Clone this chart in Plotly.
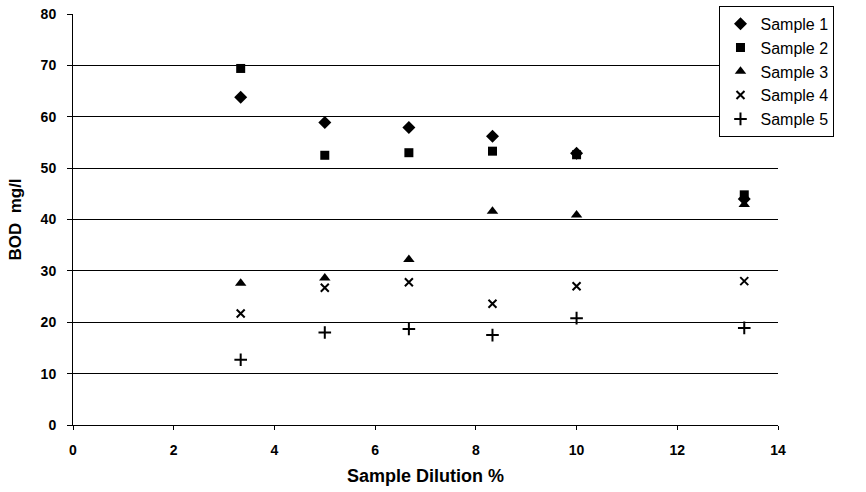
import plotly.graph_objects as go

dilution = [3.33, 5.0, 6.67, 8.33, 10.0, 13.33]
sample1 = [63.8, 58.9, 57.9, 56.2, 52.9, 44.0]
sample2 = [69.4, 52.5, 53.0, 53.3, 52.6, 44.8]
sample3 = [27.6, 28.6, 32.2, 41.6, 40.9, 42.9]
sample4 = [21.7, 26.7, 27.8, 23.6, 27.0, 28.0]
sample5 = [12.7, 18.0, 18.7, 17.5, 20.8, 18.9]

series = [
    ("Sample 1", sample1, dict(symbol="diamond", size=10, color="black")),
    ("Sample 2", sample2, dict(symbol="square", size=9, color="black")),
    ("Sample 3", sample3, dict(symbol="triangle-up", size=10, color="black")),
    ("Sample 4", sample4, dict(symbol="x-thin", size=8, color="black", line=dict(color="black", width=2))),
    ("Sample 5", sample5, dict(symbol="cross-thin", size=9, color="black", line=dict(color="black", width=2))),
]

fig = go.Figure()
for name, vals, mk in series:
    fig.add_trace(go.Scatter(x=dilution, y=vals, mode="markers", name=name, marker=mk))

font = "Liberation Sans, Arial, sans-serif"
tickfont = dict(family=font, size=14, color="black", weight="bold")
fig.update_layout(
    width=866, height=492,
    margin=dict(l=73, r=88, t=14, b=67, autoexpand=False),
    paper_bgcolor="white", plot_bgcolor="white",
    font=dict(family=font, color="black"),
    showlegend=True,
    legend=dict(
        x=0.917, y=1.02, xanchor="left", yanchor="top",
        bgcolor="white", bordercolor="black", borderwidth=1,
        font=dict(family=font, size=16, color="black"),
        itemwidth=30, tracegroupgap=0,
    ),
    xaxis=dict(
        range=[0, 14], dtick=2, tick0=0, automargin=False,
        showgrid=False, zeroline=False,
        showline=True, linecolor="black", linewidth=1,
        ticks="outside", ticklen=4, tickcolor="black",
        tickfont=tickfont, tickprefix="<b>", ticksuffix="</b>",
        ticklabelstandoff=8,
        title=dict(text="<b>Sample Dilution %</b>", font=dict(family=font, size=18, color="black"), standoff=12),
    ),
    yaxis=dict(
        range=[0, 80], dtick=10, tick0=0, automargin=False,
        showgrid=True, gridcolor="black", gridwidth=1,
        zeroline=False,
        showline=True, linecolor="black", linewidth=1,
        ticks="outside", ticklen=5, tickcolor="black",
        tickfont=tickfont, tickprefix="<b>", ticksuffix="</b>",
        ticklabelstandoff=8,
        title=dict(text="<b>BOD  mg/l</b>", font=dict(family=font, size=17, color="black"), standoff=14),
    ),
)

fig.write_html("out.html")
